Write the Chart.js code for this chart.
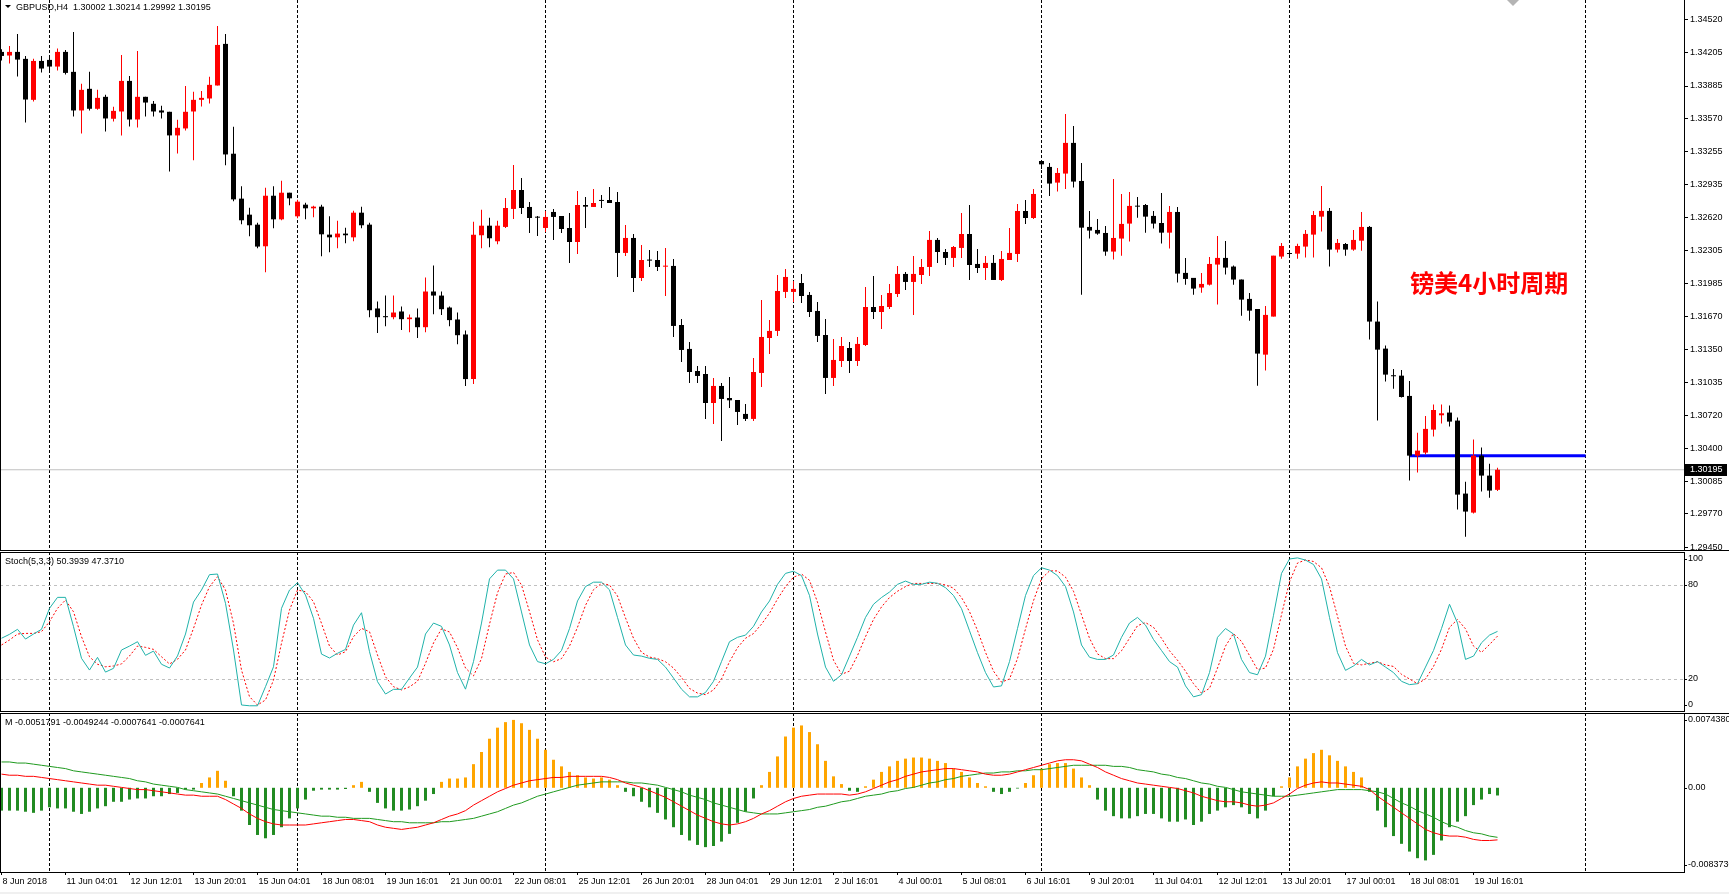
<!DOCTYPE html>
<html>
<head>
<meta charset="utf-8">
<title>GBPUSD,H4</title>
<script src="https://cdn.jsdelivr.net/npm/chart.js@4.4.1/dist/chart.umd.min.js"></script>
<style>
  body { margin: 0; width: 1729px; height: 894px; background: #fff; position: relative; overflow: hidden; font-family: "Liberation Sans", Arial, sans-serif; }
  canvas { display: block; }
  .pane { position: absolute; left: 0; }
  .txt { position: absolute; font-size: 9px; line-height: 11px; color: #000; white-space: pre; z-index: 2; }
  #pair-tri { position: absolute; left: 5px; top: 5px; width: 0; height: 0; border-left: 3px solid transparent; border-right: 3px solid transparent; border-top: 3px solid #000; z-index: 2; }
  #shift-tri { position: absolute; left: 1507px; top: 0; width: 0; height: 0; border-left: 6px solid transparent; border-right: 6px solid transparent; border-top: 6px solid #b4b4b4; z-index: 2; }
  #title-cn { position: absolute; left: 1410px; top: 270px; font-family: "Noto Sans CJK SC", sans-serif; font-weight: bold; font-size: 24px; line-height: 24px; color: #ff0000; z-index: 2; }
  #bottom-strip { position: absolute; left: 0; top: 892px; width: 1729px; height: 2px; background: #f0f0f0; }
</style>
</head>
<body>

<div class="pane" style="top:0"><canvas id="price-chart" width="1729" height="551"></canvas></div>
<div class="pane" style="top:552px"><canvas id="stoch-chart" width="1729" height="160"></canvas></div>
<div class="pane" style="top:713px"><canvas id="macd-chart" width="1729" height="181"></canvas></div>

<div id="pair-tri"></div>
<div class="txt" style="left:16px;top:2px">GBPUSD,H4  1.30002 1.30214 1.29992 1.30195</div>
<div class="txt" style="left:5px;top:556px">Stoch(5,3,3) 50.3939 47.3710</div>
<div class="txt" style="left:5px;top:717px">M -0.0051791 -0.0049244 -0.0007641 -0.0007641</div>
<div id="title-cn">镑美4小时周期</div>
<div id="shift-tri"></div>
<div id="bottom-strip"></div>

<script>
// ---- data (GBPUSD H4, bar 0 = 8 Jun 2018 00:01) ----

const opens = [
  1.34213,1.34178,1.34213,1.34146,1.33752,1.34126,1.34136,1.34072,1.34213,1.34021,
  1.33650,1.33858,1.33666,1.33781,1.33570,1.33640,1.33934,1.33563,1.33781,1.33714,
  1.33650,1.33637,1.33410,1.33477,1.33640,1.33752,1.33765,1.33890,1.34290,1.33234,
  1.32802,1.32648,1.32552,1.32344,1.32830,1.32603,1.32859,1.32632,1.32744,1.32709,
  1.32725,1.32456,1.32430,1.32466,1.32430,1.32667,1.32552,1.31746,1.31672,1.31662,
  1.31717,1.31643,1.31659,1.31566,1.31909,1.31870,1.31755,1.31640,1.31496,1.31067,
  1.32450,1.32542,1.32392,1.32530,1.32703,1.32885,1.32722,1.32626,1.32520,1.32674,
  1.32635,1.32520,1.32385,1.32741,1.32722,1.32789,1.32789,1.32770,1.32280,1.32424,
  1.32039,1.32216,1.32212,1.32148,1.32155,1.31587,1.31357,1.31145,1.31116,1.30837,
  1.31001,1.30885,1.30866,1.30732,1.30684,1.31126,1.31462,1.31530,1.31905,1.31905,
  1.31991,1.31876,1.31722,1.31491,1.31078,1.31241,1.31366,1.31241,1.31395,1.31760,
  1.31712,1.31760,1.31885,1.32078,1.32001,1.32068,1.32145,1.32405,1.32289,1.32232,
  1.32328,1.32462,1.32174,1.32135,1.32184,1.32020,1.32212,1.32270,1.32683,1.32616,
  1.33164,1.33107,1.32956,1.33043,1.33338,1.32972,1.32530,1.32501,1.32472,1.32293,
  1.32418,1.32562,1.32732,1.32741,1.32636,1.32568,1.32475,1.32674,1.32088,1.32040,
  1.31947,1.31975,1.32168,1.32232,1.32149,1.32024,1.31838,1.31741,1.31302,1.31668,
  1.32245,1.32277,1.32273,1.32341,1.32456,1.32629,1.32684,1.32312,1.32366,1.32312,
  1.32398,1.32530,1.31620,1.31360,1.31104,1.31100,1.30905,1.30331,1.30360,1.30581,
  1.30719,1.30745,1.30668,1.29966,1.29783,1.30331,1.30139,1.30002
];

const highs = [
  1.34238,1.34270,1.34386,1.34174,1.34146,1.34174,1.34155,1.34245,1.34232,1.34405,
  1.33906,1.34021,1.33848,1.33800,1.33685,1.34184,1.33982,1.34222,1.33781,1.33742,
  1.33694,1.33637,1.33560,1.33886,1.33829,1.33838,1.33973,1.34462,1.34386,1.33493,
  1.32920,1.32715,1.32571,1.32907,1.32920,1.32974,1.32859,1.32792,1.32763,1.32734,
  1.32744,1.32632,1.32590,1.32523,1.32686,1.32725,1.32571,1.31813,1.31870,1.31870,
  1.31765,1.31688,1.31746,1.32043,1.32158,1.31909,1.31765,1.31707,1.31534,1.32581,
  1.32696,1.32619,1.32590,1.32808,1.33126,1.33001,1.32770,1.32635,1.32683,1.32703,
  1.32635,1.32664,1.32876,1.32818,1.32895,1.32837,1.32914,1.32866,1.32549,1.32462,
  1.32357,1.32309,1.32299,1.32328,1.32222,1.31645,1.31424,1.31193,1.31193,1.31078,
  1.31030,1.31087,1.30866,1.30828,1.31270,1.31828,1.31635,1.32068,1.32126,1.32010,
  1.32078,1.31905,1.31809,1.31645,1.31453,1.31472,1.31424,1.31472,1.31953,1.32059,
  1.31876,1.31982,1.32155,1.32097,1.32251,1.32222,1.32491,1.32424,1.32318,1.32347,
  1.32664,1.32741,1.32318,1.32251,1.32260,1.32299,1.32520,1.32751,1.32789,1.32895,
  1.33164,1.33145,1.33097,1.33616,1.33501,1.33145,1.32684,1.32607,1.32539,1.32991,
  1.32847,1.32866,1.32818,1.32751,1.32684,1.32857,1.32732,1.32722,1.32232,1.32040,
  1.32088,1.32241,1.32443,1.32395,1.32158,1.32024,1.31895,1.31741,1.31770,1.32254,
  1.32376,1.32293,1.32369,1.32501,1.32684,1.32924,1.32713,1.32415,1.32376,1.32501,
  1.32674,1.32540,1.31812,1.31389,1.31165,1.31155,1.31049,1.30552,1.30713,1.30822,
  1.30822,1.30812,1.30697,1.30081,1.30485,1.30408,1.30254,1.30214
];

const lows = [
  1.34130,1.34101,1.33976,1.33534,1.33736,1.34014,1.34040,1.34034,1.33995,1.33592,
  1.33429,1.33650,1.33656,1.33448,1.33544,1.33410,1.33496,1.33486,1.33592,1.33592,
  1.33573,1.33064,1.33237,1.33458,1.33170,1.33688,1.33717,1.33890,1.33122,1.32776,
  1.32555,1.32440,1.32325,1.32094,1.32517,1.32594,1.32738,1.32613,1.32603,1.32622,
  1.32248,1.32286,1.32325,1.32373,1.32392,1.32517,1.31662,1.31509,1.31576,1.31643,
  1.31538,1.31518,1.31461,1.31518,1.31691,1.31682,1.31576,1.31403,1.31000,1.31019,
  1.32325,1.32334,1.32363,1.32520,1.32607,1.32655,1.32472,1.32443,1.32482,1.32405,
  1.32472,1.32184,1.32270,1.32520,1.32722,1.32712,1.32760,1.32049,1.32251,1.31905,
  1.32010,1.32145,1.32107,1.31866,1.31472,1.31232,1.31030,1.31030,1.30684,1.30635,
  1.30472,1.30789,1.30626,1.30664,1.30664,1.30991,1.31309,1.31482,1.31847,1.31809,
  1.31799,1.31664,1.31424,1.30924,1.31001,1.31184,1.31126,1.31193,1.31385,1.31645,
  1.31549,1.31741,1.31857,1.31924,1.31684,1.31982,1.32059,1.32184,1.32164,1.32145,
  1.32232,1.32020,1.32087,1.32020,1.32020,1.32010,1.32212,1.32193,1.32558,1.32607,
  1.33088,1.32828,1.32870,1.32895,1.32908,1.31879,1.32418,1.32456,1.32254,1.32216,
  1.32254,1.32389,1.32619,1.32475,1.32514,1.32370,1.32322,1.31995,1.31975,1.31879,
  1.31898,1.31966,1.31783,1.32072,1.31975,1.31677,1.31629,1.31004,1.31149,1.31668,
  1.32225,1.32254,1.32225,1.32235,1.32235,1.32485,1.32149,1.32283,1.32254,1.32302,
  1.32302,1.31447,1.30668,1.31043,1.30975,1.30889,1.30091,1.30168,1.30341,1.30514,
  1.30639,1.30610,1.29812,1.29552,1.29774,1.29985,1.29927,1.29992
];

const closes = [
  1.34174,1.34213,1.34139,1.33755,1.34126,1.34053,1.34072,1.34213,1.34011,1.33650,
  1.33848,1.33666,1.33771,1.33573,1.33646,1.33934,1.33563,1.33781,1.33726,1.33640,
  1.33630,1.33410,1.33483,1.33637,1.33752,1.33771,1.33896,1.34280,1.33227,1.32795,
  1.32594,1.32546,1.32341,1.32830,1.32603,1.32859,1.32805,1.32773,1.32709,1.32725,
  1.32459,1.32430,1.32466,1.32450,1.32667,1.32546,1.31729,1.31662,1.31662,1.31707,
  1.31643,1.31659,1.31566,1.31909,1.31870,1.31739,1.31634,1.31489,1.31067,1.32456,
  1.32542,1.32421,1.32542,1.32712,1.32885,1.32712,1.32616,1.32619,1.32626,1.32626,
  1.32510,1.32385,1.32741,1.32725,1.32760,1.32780,1.32760,1.32280,1.32424,1.32039,
  1.32212,1.32206,1.32145,1.32155,1.31578,1.31347,1.31135,1.31097,1.30837,1.31001,
  1.30876,1.30863,1.30751,1.30684,1.31135,1.31472,1.31530,1.31914,1.32049,1.31934,
  1.31866,1.31712,1.31482,1.31078,1.31251,1.31385,1.31241,1.31405,1.31760,1.31712,
  1.31770,1.31895,1.32078,1.32001,1.32078,1.32145,1.32405,1.32289,1.32232,1.32337,
  1.32462,1.32164,1.32135,1.32184,1.32020,1.32222,1.32280,1.32683,1.32616,1.32847,
  1.33132,1.32947,1.33049,1.33338,1.32966,1.32523,1.32495,1.32466,1.32293,1.32424,
  1.32559,1.32732,1.32725,1.32629,1.32562,1.32475,1.32674,1.32081,1.32030,1.31937,
  1.31982,1.32174,1.32232,1.32139,1.32024,1.31831,1.31725,1.31312,1.31684,1.32254,
  1.32347,1.32270,1.32347,1.32463,1.32645,1.32684,1.32312,1.32376,1.32312,1.32405,
  1.32530,1.31620,1.31350,1.31110,1.31094,1.30895,1.30331,1.30379,1.30588,1.30770,
  1.30738,1.30658,1.29956,1.29793,1.30331,1.30139,1.29995,1.30195
];

// Stochastic (5,3,3): main (teal) and signal (red dotted)
const stochMain = [
  46.0,48.5,51.7,45.5,48.7,51.7,65.1,72.1,72.1,53.4,
  33.2,25.7,33.8,24.4,26.8,38.5,41.0,43.8,35.1,37.8,
  29.4,27.0,34.7,48.7,69.1,76.8,86.6,87.0,68.3,38.5,
  3.4,2.9,2.9,15.1,27.8,65.1,76.8,81.5,73.6,58.7,
  35.9,33.4,36.4,38.9,54.4,62.3,37.4,18.3,10.4,13.4,
  13.4,20.6,27.6,48.7,55.7,53.6,41.7,24.1,13.5,31.1,
  55.7,83.9,89.5,89.5,83.9,62.8,41.7,31.1,29.7,32.5,
  38.2,52.2,69.8,79.0,81.8,81.8,76.9,59.3,41.7,35.3,
  34.6,33.2,32.5,27.6,20.6,13.5,8.6,8.6,11.4,18.5,
  31.1,43.8,46.6,48.0,53.6,62.8,69.8,80.4,87.4,88.8,
  86.0,73.3,48.7,27.6,18.5,22.7,34.6,46.6,59.3,67.7,
  72.0,75.5,80.4,82.5,80.4,80.4,81.8,81.1,78.3,73.3,
  64.9,50.8,36.8,24.1,14.9,15.6,31.1,52.2,73.3,86.0,
  91.0,89.5,86.0,79.0,62.8,41.7,33.9,32.5,32.5,35.3,
  46.6,55.7,59.3,54.4,45.2,38.2,31.1,27.6,15.6,8.6,
  10.0,24.1,46.6,52.2,48.7,32.5,24.1,22.7,34.6,60.7,
  87.4,96.6,97.3,95.9,93.1,83.9,59.3,36.8,25.5,28.3,
  32.5,29.0,31.1,27.6,24.1,18.5,16.4,17.0,27.6,38.2,
  52.2,67.7,55.7,32.5,34.6,43.1,48.0,50.3939
];

const stochSignal = [
  41.7,44.9,48.7,49.1,49.1,50.2,56.6,65.1,70.4,62.9,
  47.0,34.2,29.4,27.8,28.3,29.6,34.7,41.0,40.2,38.9,
  34.2,29.6,32.6,38.5,52.3,67.2,78.9,85.3,76.8,55.5,
  25.7,8.7,3.4,6.6,19.3,42.8,64.0,76.8,75.7,69.3,
  55.5,41.0,35.3,37.4,47.0,52.3,50.2,35.3,21.4,15.1,
  13.0,15.0,18.5,30,43,52,50,40,27,22,
  33,55,75,87,88,80,63,45,34,31,
  33,41,53,67,77,81,80,73,59,46,
  37,34,33,31,27,21,14,11,10,13,
  20,31,40,46,49,55,62,71,79,85,
  87,83,69,50,32,23,25,35,47,58,
  66,72,76,79,81,81,81,81,80,78,
  72,63,51,37,25,18,20,33,52,70,
  84,89,89,85,76,61,46,36,33,33,
  38,46,54,56,53,46,38,32,25,17,
  11,14,27,41,49,44,35,26,27,39,
  61,82,94,96,95,91,79,60,41,30,
  29,30,31,29,28,23,20,17,20,28,
  39,53,58,52,41,37,42,47.3710
];

// "M" indicator: histogram plus two lines
const macdHist = [
  -0.00227,-0.00227,-0.00227,-0.00238,-0.00249,-0.00227,-0.00194,-0.00205,-0.00205,-0.00238,
  -0.00260,-0.00238,-0.00205,-0.00183,-0.00139,-0.00139,-0.00117,-0.00106,-0.00106,-0.00084,
  -0.00084,-0.00062,-0.00051,-0.00018,-0.00018,0.00048,0.00103,0.00169,0.00070,-0.00084,
  -0.00227,-0.00370,-0.00469,-0.00502,-0.00469,-0.00392,-0.00304,-0.00205,-0.00117,-0.00029,
  -0.00018,-0.00018,-0.00018,-0.00012,0.00026,0.00059,-0.00040,-0.00150,-0.00205,-0.00227,
  -0.00227,-0.00216,-0.00183,-0.00128,-0.00062,0.00059,0.00092,0.00092,0.00103,0.00235,
  0.00356,0.00488,0.00598,0.00653,0.00675,0.00642,0.00576,0.00488,0.00378,0.00279,
  0.00213,0.00158,0.00125,0.00103,0.00092,0.00103,0.00081,0.00026,-0.00040,-0.00084,
  -0.00139,-0.00194,-0.00249,-0.00315,-0.00392,-0.00469,-0.00524,-0.00568,-0.00590,-0.00579,
  -0.00535,-0.00458,-0.00348,-0.00238,-0.00106,0.00026,0.00158,0.00312,0.00510,0.00598,
  0.00620,0.00554,0.00433,0.00268,0.00114,0.00037,-0.00029,-0.00040,0.00015,0.00081,
  0.00158,0.00213,0.00268,0.00290,0.00301,0.00301,0.00290,0.00268,0.00246,0.00191,
  0.00158,0.00103,0.00048,0.00015,-0.00040,-0.00062,-0.00040,-0.00007,0.00048,0.00125,
  0.00191,0.00235,0.00246,0.00246,0.00191,0.00103,0.00026,-0.00117,-0.00227,-0.00282,
  -0.00304,-0.00304,-0.00282,-0.00260,-0.00260,-0.00304,-0.00337,-0.00337,-0.00315,-0.00370,
  -0.00337,-0.00260,-0.00227,-0.00194,-0.00172,-0.00194,-0.00260,-0.00304,-0.00227,-0.00084,
  0.00015,0.00103,0.00213,0.00290,0.00345,0.00378,0.00323,0.00268,0.00213,0.00158,
  0.00103,-0.00040,-0.00227,-0.00392,-0.00480,-0.00557,-0.00634,-0.00700,-0.00722,-0.00667,
  -0.00524,-0.00392,-0.00337,-0.00282,-0.00172,-0.00117,-0.00062,-0.0007641
];

const macdLine = [
  0.00136,0.00125,0.00125,0.00114,0.00114,0.00103,0.00092,0.00081,0.00070,0.00059,
  0.00048,0.00037,0.00026,0.00026,0.00015,0.00004,-0.00007,-0.00018,-0.00018,-0.00029,
  -0.00040,-0.00051,-0.00062,-0.00073,-0.00073,-0.00084,-0.00084,-0.00084,-0.00117,-0.00161,
  -0.00205,-0.00260,-0.00304,-0.00337,-0.00359,-0.00370,-0.00370,-0.00370,-0.00370,-0.00359,
  -0.00348,-0.00337,-0.00326,-0.00315,-0.00315,-0.00326,-0.00337,-0.00370,-0.00392,-0.00403,
  -0.00414,-0.00403,-0.00392,-0.00370,-0.00348,-0.00315,-0.00282,-0.00260,-0.00227,-0.00172,
  -0.00128,-0.00084,-0.00040,-0.00007,0.00026,0.00048,0.00070,0.00081,0.00092,0.00103,
  0.00103,0.00114,0.00114,0.00114,0.00114,0.00114,0.00103,0.00081,0.00048,0.00026,
  0.00004,-0.00029,-0.00062,-0.00095,-0.00139,-0.00183,-0.00227,-0.00271,-0.00304,-0.00337,
  -0.00359,-0.00370,-0.00359,-0.00337,-0.00304,-0.00260,-0.00227,-0.00183,-0.00139,-0.00106,
  -0.00084,-0.00073,-0.00062,-0.00062,-0.00062,-0.00062,-0.00073,-0.00062,-0.00040,-0.00007,
  0.00026,0.00059,0.00081,0.00114,0.00136,0.00158,0.00169,0.00180,0.00191,0.00191,
  0.00180,0.00169,0.00158,0.00136,0.00125,0.00125,0.00136,0.00158,0.00180,0.00202,
  0.00224,0.00246,0.00268,0.00279,0.00279,0.00268,0.00235,0.00202,0.00158,0.00125,
  0.00092,0.00070,0.00048,0.00037,0.00026,0.00015,0.00004,-0.00007,-0.00029,-0.00051,
  -0.00084,-0.00106,-0.00128,-0.00139,-0.00139,-0.00150,-0.00172,-0.00183,-0.00172,-0.00150,
  -0.00106,-0.00062,-0.00007,0.00026,0.00048,0.00059,0.00048,0.00048,0.00037,0.00026,
  0.00015,-0.00018,-0.00084,-0.00139,-0.00194,-0.00249,-0.00304,-0.00359,-0.00414,-0.00447,
  -0.00469,-0.00480,-0.00480,-0.00491,-0.00513,-0.00524,-0.00524,-0.0051791
];

const macdSignal = [
  0.00257,0.00257,0.00246,0.00246,0.00235,0.00224,0.00213,0.00202,0.00191,0.00169,
  0.00158,0.00147,0.00136,0.00125,0.00114,0.00103,0.00092,0.00070,0.00059,0.00037,
  0.00026,0.00015,0.00004,-0.00018,-0.00029,-0.00040,-0.00051,-0.00062,-0.00084,-0.00106,
  -0.00128,-0.00150,-0.00172,-0.00194,-0.00216,-0.00227,-0.00238,-0.00249,-0.00260,-0.00271,
  -0.00282,-0.00282,-0.00293,-0.00293,-0.00304,-0.00304,-0.00304,-0.00315,-0.00326,-0.00337,
  -0.00337,-0.00348,-0.00348,-0.00348,-0.00348,-0.00337,-0.00337,-0.00326,-0.00315,-0.00304,
  -0.00282,-0.00260,-0.00238,-0.00205,-0.00172,-0.00150,-0.00117,-0.00084,-0.00062,-0.00040,
  -0.00018,0.00004,0.00026,0.00037,0.00048,0.00059,0.00059,0.00059,0.00059,0.00048,
  0.00048,0.00037,0.00026,0.00004,-0.00018,-0.00040,-0.00073,-0.00095,-0.00117,-0.00150,
  -0.00172,-0.00194,-0.00216,-0.00238,-0.00249,-0.00260,-0.00260,-0.00260,-0.00249,-0.00238,
  -0.00227,-0.00216,-0.00194,-0.00183,-0.00161,-0.00139,-0.00128,-0.00106,-0.00084,-0.00073,
  -0.00062,-0.00040,-0.00029,-0.00007,0.00004,0.00026,0.00048,0.00059,0.00081,0.00092,
  0.00114,0.00125,0.00136,0.00147,0.00147,0.00158,0.00158,0.00169,0.00169,0.00180,
  0.00180,0.00191,0.00202,0.00213,0.00224,0.00224,0.00224,0.00224,0.00224,0.00213,
  0.00213,0.00202,0.00180,0.00169,0.00158,0.00136,0.00125,0.00103,0.00092,0.00070,
  0.00048,0.00037,0.00015,0.00004,-0.00018,-0.00040,-0.00051,-0.00062,-0.00073,-0.00084,
  -0.00084,-0.00084,-0.00073,-0.00062,-0.00051,-0.00040,-0.00029,-0.00018,-0.00018,-0.00018,
  -0.00018,-0.00029,-0.00040,-0.00062,-0.00106,-0.00150,-0.00183,-0.00227,-0.00260,-0.00293,
  -0.00337,-0.00370,-0.00392,-0.00425,-0.00447,-0.00458,-0.00480,-0.0049244
];

// axis labels
const priceTicks = [1.34520,1.34205,1.33885,1.33570,1.33255,1.32935,1.32620,1.32305,1.31985,
                    1.31670,1.31350,1.31035,1.30720,1.30400,1.30085,1.29770,1.29450];
const timeLabels = ['8 Jun 2018','11 Jun 04:01','12 Jun 12:01','13 Jun 20:01','15 Jun 04:01','18 Jun 08:01',
                    '19 Jun 16:01','21 Jun 00:01','22 Jun 08:01','25 Jun 12:01','26 Jun 20:01','28 Jun 04:01',
                    '29 Jun 12:01','2 Jul 16:01','4 Jul 00:01','5 Jul 08:01','6 Jul 16:01','9 Jul 20:01',
                    '11 Jul 04:01','12 Jul 12:01','13 Jul 20:01','17 Jul 00:01','18 Jul 08:01','19 Jul 16:01'];
const timeLabelBars = [0,8,16,24,32,40,48,56,64,72,80,88,96,104,112,120,128,136,144,152,160,168,176,184];
const separatorBars = [6,37,68,99,130,161,198];
const stochLevels = [80, 20];
const stochAxisLabels = [[100,'100'],[80,'80'],[20,'20'],[0,'0']];
const macdTop = 0.007438, macdBottom = -0.008373;
const bidPrice = 1.30195;
const levelPrice = 1.30331;       // blue horizontal line
const levelBars = [176, 198];

// ---- layout: 8px per bar, right price scale 45px wide ----
const X_MIN = -0.1875, X_MAX = 210.3125;
const PRICE_MIN = 1.29414, PRICE_MAX = 1.34712;

Chart.defaults.font.family = '"Liberation Sans", Arial, sans-serif';
Chart.defaults.font.size = 9;
Chart.defaults.color = '#000';

function fixedSize(size) {
  return function (scale) {
    if (scale.isHorizontal()) scale.height = size; else scale.width = size;
    scale.paddingTop = 0; scale.paddingBottom = 0;
    scale.paddingLeft = 0; scale.paddingRight = 0;
  };
}

const separatorPlugin = {
  id: 'separators',
  beforeDatasetsDraw(chart) {
    const ctx = chart.ctx, x = chart.scales.x, a = chart.chartArea;
    ctx.save();
    ctx.strokeStyle = '#000';
    ctx.lineWidth = 1;
    ctx.setLineDash([3, 2]);
    separatorBars.forEach(function (b) {
      const px = Math.floor(x.getPixelForValue(b)) + 0.5;
      ctx.beginPath();
      ctx.moveTo(px, a.top);
      ctx.lineTo(px, a.bottom);
      ctx.stroke();
    });
    ctx.restore();
  }
};

const framePlugin = {
  id: 'frame',
  afterDraw(chart, args, opts) {
    const ctx = chart.ctx, a = chart.chartArea;
    ctx.save();
    ctx.fillStyle = '#000';
    ctx.fillRect(0, a.top, 1, a.bottom - a.top);
    (opts.rows || []).forEach(function (r) { ctx.fillRect(0, r[0], r[1], 1); });
    ctx.restore();
  }
};

// labels on the right of the indicator windows (kept inside the window like MT4 does)
const sideLabelPlugin = {
  id: 'sideLabels',
  afterDraw(chart, args, opts) {
    const ctx = chart.ctx, y = chart.scales.y, a = chart.chartArea;
    ctx.save();
    ctx.font = '9px "Liberation Sans", Arial, sans-serif';
    ctx.fillStyle = '#000';
    ctx.textBaseline = 'middle';
    (opts.items || []).forEach(function (item) {
      let py = y.getPixelForValue(item[0]);
      py = Math.min(Math.max(py, a.top + 7), a.bottom - 7);
      ctx.fillRect(a.right, Math.round(py), 3, 1);
      ctx.fillText(item[1], a.right + 4, py);
    });
    ctx.restore();
  }
};

const levelPlugin = {
  id: 'levels',
  beforeDatasetsDraw(chart) {
    const ctx = chart.ctx, y = chart.scales.y, a = chart.chartArea;
    ctx.save();
    ctx.strokeStyle = '#c0c0c0';
    ctx.lineWidth = 1;
    ctx.setLineDash([3, 3]);
    stochLevels.forEach(function (v) {
      const py = Math.round(y.getPixelForValue(v)) + 0.5;
      ctx.beginPath();
      ctx.moveTo(a.left, py);
      ctx.lineTo(a.right, py);
      ctx.stroke();
    });
    ctx.restore();
  }
};

const priceBoxPlugin = {
  id: 'priceBox',
  afterDraw(chart) {
    const ctx = chart.ctx, y = chart.scales.y, a = chart.chartArea;
    const py = Math.round(y.getPixelForValue(bidPrice));
    ctx.save();
    ctx.fillStyle = '#000';
    ctx.fillRect(a.right + 1, py - 6, 42, 12);
    ctx.fillStyle = '#fff';
    ctx.font = '9px "Liberation Sans", Arial, sans-serif';
    ctx.textBaseline = 'middle';
    ctx.fillText(bidPrice.toFixed(5), a.right + 6, py);
    ctx.restore();
  }
};

const baseOptions = {
  responsive: false,
  animation: false,
  devicePixelRatio: 1,
  events: [],
  layout: { padding: 0 },
  plugins: { legend: { display: false }, tooltip: { enabled: false } }
};

function hiddenX() {
  return { type: 'linear', min: X_MIN, max: X_MAX, offset: false, display: false };
}


function loadPriceChart() {
  const candleColors = opens.map((o, i) => closes[i] > o ? '#ff0000' : '#000000');
  const ctx = document.getElementById('price-chart');
  new Chart(ctx, {
    type: 'bar',
    data: {
      datasets: [
        {
          label: 'body',
          data: opens.map((o, i) => ({ x: i, y: [o, closes[i]] })),
          backgroundColor: candleColors,
          barThickness: 5,
          minBarLength: 1,
          grouped: false,
          inflateAmount: 0,
          borderWidth: 0
        },
        {
          label: 'wick',
          data: lows.map((l, i) => ({ x: i, y: [l, highs[i]] })),
          backgroundColor: candleColors,
          barThickness: 1,
          grouped: false,
          inflateAmount: 0,
          borderWidth: 0
        },
        {
          type: 'line',
          label: 'level',
          data: levelBars.map(b => ({ x: b, y: levelPrice })),
          borderColor: '#0000ff',
          borderWidth: 3,
          pointRadius: 0
        },
        {
          type: 'line',
          label: 'bid',
          data: [{ x: X_MIN, y: bidPrice }, { x: X_MAX, y: bidPrice }],
          borderColor: '#c0c0c0',
          borderWidth: 1,
          pointRadius: 0
        }
      ]
    },
    options: Object.assign({}, baseOptions, {
      plugins: Object.assign({}, baseOptions.plugins, { frame: { rows: [[550, 1729]] } }),
      scales: {
        x: hiddenX(),
        y: {
          position: 'right',
          min: PRICE_MIN,
          max: PRICE_MAX,
          afterBuildTicks: s => { s.ticks = priceTicks.map(v => ({ value: v })); },
          afterFit: fixedSize(45),
          ticks: { callback: v => v.toFixed(5), padding: 2, autoSkip: false },
          grid: { drawOnChartArea: false, drawTicks: true, tickLength: 4, color: '#000' },
          border: { display: true, color: '#000' }
        }
      }
    }),
    plugins: [separatorPlugin, framePlugin, priceBoxPlugin]
  });
}


function loadStochChart() {
  const ctx = document.getElementById('stoch-chart');
  new Chart(ctx, {
    type: 'line',
    data: {
      datasets: [
        {
          label: 'main',
          data: stochMain.map((v, i) => ({ x: i, y: v })),
          borderColor: '#20b2aa',
          borderWidth: 1,
          pointRadius: 0,
          tension: 0
        },
        {
          label: 'signal',
          data: stochSignal.map((v, i) => ({ x: i, y: v })),
          borderColor: '#ff0000',
          borderWidth: 1,
          borderDash: [2, 2],
          pointRadius: 0,
          tension: 0
        }
      ]
    },
    options: Object.assign({}, baseOptions, {
      plugins: Object.assign({}, baseOptions.plugins, {
        frame: { rows: [[0, 1684], [159, 1684]] },
        sideLabels: { items: stochAxisLabels }
      }),
      scales: {
        x: hiddenX(),
        y: {
          position: 'right',
          min: -1.07,
          max: 101.06,
          afterFit: fixedSize(45),
          ticks: { display: false },
          grid: { display: false },
          border: { display: true, color: '#000' }
        }
      }
    }),
    plugins: [levelPlugin, separatorPlugin, framePlugin, sideLabelPlugin]
  });
}


function loadMacdChart() {
  const ctx = document.getElementById('macd-chart');
  new Chart(ctx, {
    type: 'bar',
    data: {
      datasets: [
        {
          type: 'line',
          label: 'macd',
          data: macdLine.map((v, i) => ({ x: i, y: v })),
          borderColor: '#ff0000',
          borderWidth: 1,
          pointRadius: 0,
          tension: 0
        },
        {
          type: 'line',
          label: 'signal',
          data: macdSignal.map((v, i) => ({ x: i, y: v })),
          borderColor: '#1f9a1f',
          borderWidth: 1,
          pointRadius: 0,
          tension: 0
        },
        {
          label: 'hist',
          data: macdHist.map((v, i) => ({ x: i, y: v })),
          backgroundColor: macdHist.map(v => v >= 0 ? '#ffa500' : '#228b22'),
          barThickness: 3,
          grouped: false,
          inflateAmount: 0,
          borderWidth: 0
        }
      ]
    },
    options: Object.assign({}, baseOptions, {
      plugins: Object.assign({}, baseOptions.plugins, {
        frame: { rows: [[0, 1729]] },
        sideLabels: { items: [[macdTop, '0.0074380'], [0, '0.00'], [macdBottom, '-0.0083730']] }
      }),
      scales: {
        x: {
          type: 'linear',
          min: X_MIN,
          max: X_MAX,
          offset: false,
          position: 'bottom',
          afterBuildTicks: s => { s.ticks = timeLabelBars.map(v => ({ value: v })); },
          afterFit: fixedSize(22),
          ticks: {
            callback: (v, i) => timeLabels[i],
            align: 'start',
            labelOffset: 1,
            padding: 1,
            minRotation: 0,
            maxRotation: 0,
            autoSkip: false
          },
          grid: { drawOnChartArea: false, drawTicks: true, tickLength: 3, color: '#000', offset: false },
          border: { display: true, color: '#000' }
        },
        y: {
          position: 'right',
          min: macdBottom,
          max: macdTop,
          afterFit: fixedSize(45),
          ticks: { display: false },
          grid: { display: false },
          border: { display: true, color: '#000' }
        }
      }
    }),
    plugins: [separatorPlugin, framePlugin, sideLabelPlugin]
  });
}


window.addEventListener('load', (event) => {
  loadPriceChart();
  loadStochChart();
  loadMacdChart();
});
</script>
</body>
</html>
